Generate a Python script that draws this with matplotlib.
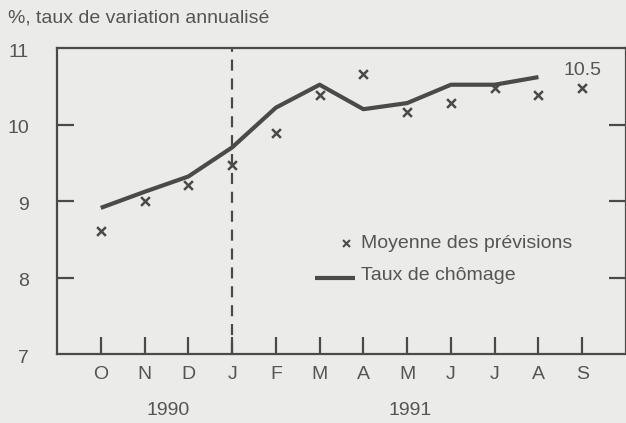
import matplotlib
matplotlib.use("Agg")
import matplotlib.pyplot as plt
import matplotlib.transforms as mtransforms

months = ["O", "N", "D", "J", "F", "M", "A", "M", "J", "J", "A", "S"]
chomage = [8.91, 9.12, 9.32, 9.70, 10.22, 10.52, 10.20, 10.28, 10.52, 10.52, 10.62]
previsions = [8.61, 9.00, 9.21, 9.47, 9.89, 10.39, 10.66, 10.16, 10.28, 10.48, 10.39, 10.48]
yticks = [7, 8, 9, 10, 11]
years = ["1990", "1991"]
last_label = "10.5"

bg = "#ebebea"
ink = "#4a4a4a"
txt = "#555555"
fs = 14

plt.rcParams['font.family'] = ['Liberation Sans', 'DejaVu Sans']

fig = plt.figure(figsize=(6.26, 4.23), dpi=100, facecolor=bg)
ax = fig.add_axes([57/626, 1-354/423, 1-57/626, (354-48)/423])
ax.set_facecolor(bg)

x_all = list(range(len(months)))
ax.plot(x_all[:len(chomage)], chomage, color=ink, lw=3.0, solid_capstyle='butt', zorder=3)
ax.scatter(x_all, previsions, marker='x', s=40, color=ink, linewidths=1.8, zorder=4)

ax.axvline(3, color=ink, lw=1.6, ls=(0, (5, 3.5)), zorder=2)

ax.set_xlim(-1, 12.0)
ax.set_ylim(7, 11)

for s in ax.spines.values():
    s.set_color(ink)
    s.set_linewidth(1.6)

ax.set_yticks(yticks)
ax.set_yticklabels([str(v) for v in yticks])
ax.tick_params(axis='y', which='both', direction='in', length=12, width=1.6, color=ink,
               labelsize=fs, labelcolor=txt, pad=20, right=True)
ax.set_xticks(x_all)
ax.set_xticklabels(months)
ax.tick_params(axis='x', direction='in', length=12, width=1.6, color=ink,
               labelsize=fs, labelcolor=txt, pad=8.5)
offset = mtransforms.ScaledTranslation(0, -4/100, fig.dpi_scale_trans)
for lab in ax.get_yticklabels():
    lab.set_verticalalignment('center')
    lab.set_horizontalalignment('right')
    lab.set_transform(lab.get_transform() + offset)

# hide ticks at 7 and 11 ends
for t in (ax.yaxis.get_major_ticks()[0], ax.yaxis.get_major_ticks()[-1]):
    t.tick1line.set_visible(False)
    t.tick2line.set_visible(False)

# year labels
ax.text(1.55, -0.186, years[0], transform=ax.get_xaxis_transform(), ha='center', va='center',
        fontsize=fs, color=txt)
ax.text(7.07, -0.186, years[1], transform=ax.get_xaxis_transform(), ha='center', va='center',
        fontsize=fs, color=txt)

ax.text(11, previsions[-1] + 0.23, last_label, ha='center', va='center', fontsize=fs, color=txt)

# legend drawn manually
ax.scatter([5.6], [8.45], marker='x', s=25, color=ink, linewidths=1.5)
ax.text(5.95, 8.45, "Moyenne des prévisions", ha='left', va='center', fontsize=fs, color=txt)
ax.plot([4.9, 5.8], [7.99, 7.99], color=ink, lw=3.0, solid_capstyle='butt')
ax.text(5.95, 8.03, "Taux de chômage", ha='left', va='center', fontsize=fs, color=txt)

fig.text(8/626, 1-18/423, "%, taux de variation annualisé", ha='left', va='center',
         fontsize=fs, color=txt)

fig.savefig("out.png", dpi=100, facecolor=bg)
